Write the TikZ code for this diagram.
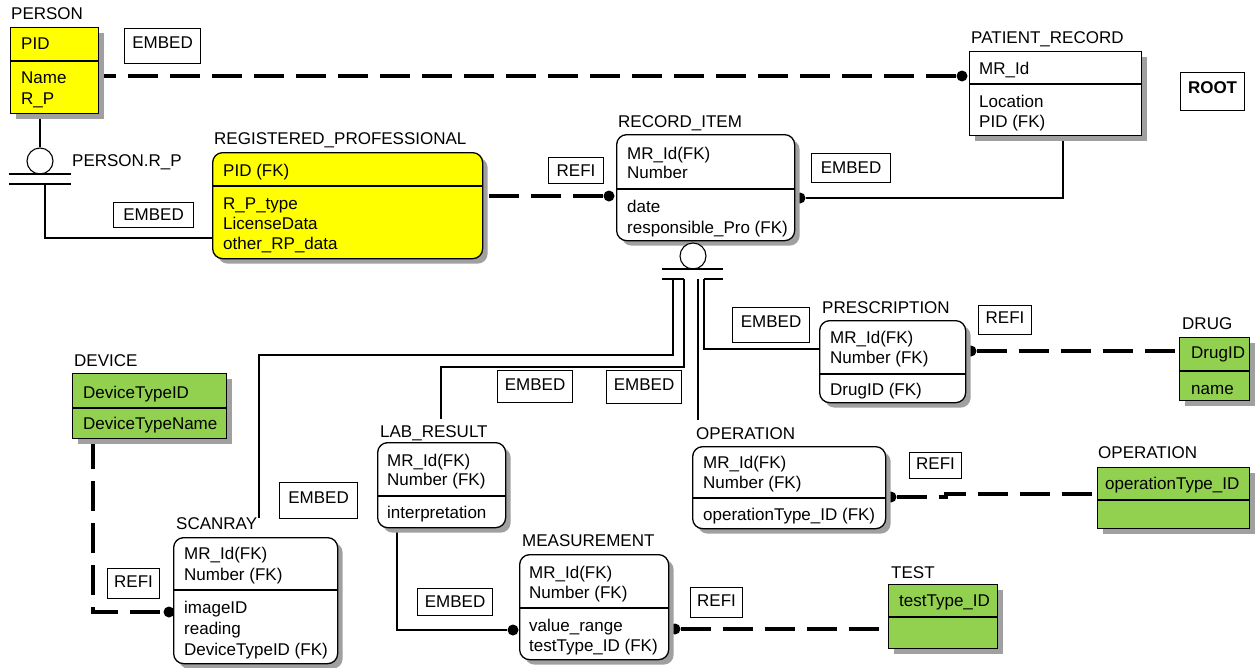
\documentclass[tikz,border=0pt]{standalone}
\usepackage{fontspec}
\setmainfont{Liberation Sans}
\usetikzlibrary{shadows}
\pgfdeclarelayer{bg}
\pgfsetlayers{bg,main}
\definecolor{ey}{RGB}{255,255,0}
\definecolor{eg}{RGB}{146,208,80}
\definecolor{sh}{RGB}{160,160,160}
\tikzset{
  every node/.style={font=\fontsize{17}{20}\selectfont, inner sep=0pt},
  ent/.style={draw, line width=1.3pt, anchor=north west,
    drop shadow={shadow xshift=5pt, shadow yshift=-5pt, fill=sh, opacity=1}},
  rent/.style={ent, rounded corners=10pt},
  div/.style={line width=1.3pt},
  txt/.style={anchor=base west},
  lbox/.style={draw, line width=1.1pt, anchor=north west, fill=white},
  dot/.style={circle, fill=black, minimum size=11pt},
  sub/.style={circle, draw, line width=1.1pt, minimum size=26pt, fill=white},
  refi/.style={line width=3.3pt, dash pattern=on 30pt off 12pt},
  thinl/.style={line width=1.1pt}
}
\newcommand\rows[5][20]{\foreach \t [count=\i from 0] in {#5}{\node[txt] (#2-\i) at (#3,{#4+\i*#1}) {\t};}}
\begin{document}
\begin{tikzpicture}[x=1pt,y=-1pt]
\begin{pgfonlayer}{bg}\fill[white] (0,0) rectangle (1257,667);\end{pgfonlayer}
\useasboundingbox (0,0) rectangle (1257,667);

% ---------- entities ----------
% PERSON
\node[ent, fill=ey, minimum width=88pt, minimum height=86pt] (person) at (10,27) {};
\draw[div] (person.west |- 0,61) -- (person.east |- 0,61);
\node[txt] (person-t) at (11,19) {PERSON};
\rows{personK}{21}{49}{PID}
\rows[21]{personA}{21}{83}{Name,R\_P}

% PATIENT_RECORD
\node[ent, fill=white, minimum width=172pt, minimum height=84pt] (prec) at (969,51) {};
\draw[div] (prec.west |- 0,84) -- (prec.east |- 0,84);
\node[txt] (prec-t) at (971,43) {PATIENT\_RECORD};
\rows{precK}{979}{74}{MR\_Id}
\rows{precA}{979}{107}{Location,PID (FK)}

% ROOT
\node[lbox, minimum width=64pt, minimum height=38pt, text depth=8pt, font=\fontsize{17}{20}\selectfont\bfseries] (root) at (1180,72) {ROOT};

% REGISTERED_PROFESSIONAL
\node[rent, fill=ey, minimum width=270pt, minimum height=106pt] (reg) at (212,152) {};
\draw[div] (reg.west |- 0,186) -- (reg.east |- 0,186);
\node[txt] (reg-t) at (214,144) {REGISTERED\_PROFESSIONAL};
\rows{regK}{223}{176}{PID (FK)}
\rows{regA}{223}{209}{R\_P\_type,LicenseData,other\_RP\_data}

% RECORD_ITEM
\node[rent, fill=white, minimum width=178pt, minimum height=106pt] (ri) at (616,134) {};
\draw[div] (ri.west |- 0,189) -- (ri.east |- 0,189);
\node[txt] (ri-t) at (618,127) {RECORD\_ITEM};
\rows[19]{riK}{627}{159}{MR\_Id(FK),Number}
\rows[21]{riA}{627}{212}{date,responsible\_Pro (FK)}

% PRESCRIPTION
\node[rent, fill=white, minimum width=146pt, minimum height=82pt] (presc) at (819,320) {};
\draw[div] (presc.west |- 0,374) -- (presc.east |- 0,374);
\node[txt] (presc-t) at (822,313) {PRESCRIPTION};
\rows{prescK}{830}{343}{MR\_Id(FK),Number (FK)}
\rows{prescA}{830}{395}{DrugID (FK)}

% DRUG
\node[ent, fill=eg, minimum width=70pt, minimum height=63pt] (drug) at (1179,337) {};
\draw[div] (drug.west |- 0,371) -- (drug.east |- 0,371);
\node[txt] (drug-t) at (1182,329) {DRUG};
\rows{drugK}{1191}{358}{DrugID}
\rows{drugA}{1191}{394}{name}

% DEVICE
\node[ent, fill=eg, minimum width=154pt, minimum height=65pt] (dev) at (72,373) {};
\draw[div] (dev.west |- 0,408) -- (dev.east |- 0,408);
\node[txt] (dev-t) at (74,366) {DEVICE};
\rows{devK}{83}{398}{DeviceTypeID}
\rows{devA}{83}{429}{DeviceTypeName}

% SCANRAY
\node[rent, fill=white, minimum width=164pt, minimum height=126pt] (scan) at (173,537) {};
\draw[div] (scan.west |- 0,590) -- (scan.east |- 0,590);
\node[txt] (scan-t) at (176,529) {SCANRAY};
\rows[21]{scanK}{184}{559}{MR\_Id(FK),Number (FK)}
\rows[21]{scanA}{184}{613}{imageID,reading,DeviceTypeID (FK)}

% LAB_RESULT
\node[rent, fill=white, minimum width=128pt, minimum height=85pt] (lab) at (377,442) {};
\draw[div] (lab.west |- 0,496) -- (lab.east |- 0,496);
\node[txt] (lab-t) at (380,437) {LAB\_RESULT};
\rows[19]{labK}{387}{466}{MR\_Id(FK),Number (FK)}
\rows{labA}{387}{518}{interpretation}

% MEASUREMENT
\node[rent, fill=white, minimum width=149pt, minimum height=105pt] (meas) at (519,554) {};
\draw[div] (meas.west |- 0,608) -- (meas.east |- 0,608);
\node[txt] (meas-t) at (522,546) {MEASUREMENT};
\rows{measK}{529}{578}{MR\_Id(FK),Number (FK)}
\rows{measA}{529}{631}{value\_range,testType\_ID (FK)}

% OPERATION (white)
\node[rent, fill=white, minimum width=193pt, minimum height=82pt] (op) at (692,446) {};
\draw[div] (op.west |- 0,498) -- (op.east |- 0,498);
\node[txt] (op-t) at (696,439) {OPERATION};
\rows{opK}{703}{468}{MR\_Id(FK),Number (FK)}
\rows{opA}{703}{520}{operationType\_ID (FK)}

% OPERATION (green)
\node[ent, fill=eg, minimum width=152pt, minimum height=61pt] (opt) at (1097,467) {};
\draw[div] (opt.west |- 0,500) -- (opt.east |- 0,500);
\node[txt] (opt-t) at (1098,458) {OPERATION};
\rows{optK}{1105}{489}{operationType\_ID}

% TEST
\node[ent, fill=eg, minimum width=109pt, minimum height=64pt] (test) at (888,584) {};
\draw[div] (test.west |- 0,617) -- (test.east |- 0,617);
\node[txt] (test-t) at (891,578) {TEST};
\rows{testK}{899}{606}{testType\_ID}

% ---------- relationship labels ----------
\node[lbox, minimum width=76pt, minimum height=35pt, text depth=7pt] (e1) at (124,28) {EMBED};
\node[lbox, minimum width=80pt, minimum height=25pt] (e2) at (113,202) {EMBED};
\node[lbox, minimum width=55pt, minimum height=26pt] (r1) at (548,157) {REFI};
\node[lbox, minimum width=79pt, minimum height=29pt] (e3) at (811,153) {EMBED};
\node[lbox, minimum width=77pt, minimum height=35pt, text depth=6pt] (e4) at (732,307) {EMBED};
\node[lbox, minimum width=53pt, minimum height=29pt, text depth=4pt] (r2) at (978,305) {REFI};
\node[lbox, minimum width=75pt, minimum height=32pt, text depth=4pt] (e5) at (497,370) {EMBED};
\node[lbox, minimum width=75pt, minimum height=33pt, text depth=4pt] (e6) at (606,370) {EMBED};
\node[lbox, minimum width=78pt, minimum height=36pt, text depth=6pt] (e7) at (279,482) {EMBED};
\node[lbox, minimum width=52pt, minimum height=30pt, text depth=4pt] (r3) at (107,568) {REFI};
\node[lbox, minimum width=75pt, minimum height=27pt] (e8) at (417,588) {EMBED};
\node[lbox, minimum width=52pt, minimum height=30pt, text depth=4pt] (r4) at (690,587) {REFI};
\node[lbox, minimum width=52pt, minimum height=26pt, text depth=3pt] (r5) at (909,452) {REFI};

% ---------- subtype symbols ----------
\node[sub] (psub) at (40,161) {};
\draw[thinl] (9,174) -- (71,174) (9,184) -- (71,184);
\node[txt] (psub-t) at (72,166) {PERSON.R\_P};
\node[sub] (risub) at (693,256) {};
\draw[thinl] (662,269) -- (723,269) (662,279) -- (684,279) (704,279) -- (723,279);

% ---------- connectors ----------
\begin{pgfonlayer}{bg}
\node[dot] (d1) at (962,76) {};
\draw[refi] (d1) -- (d1 -| person.east);
\node[dot] (d2) at (609,196) {};
\draw[refi] (d2) -- (d2 -| reg.east);
\node[dot] (d3) at (800,198) {};
\draw[thinl] (d3) -| (prec.south -| 1063,0);
\node[dot] (d4) at (169,612) {};
\draw[refi] (dev.south -| 93,0) |- (d4);
\node[dot] (d5) at (513,630) {};
\draw[thinl] (lab.south -| 397,0) |- (d5);
\node[dot] (d6) at (675,629) {};
\draw[refi] (d6) -- (d6 -| test.west);
\node[dot] (d7) at (971,351) {};
\draw[refi] (d7) -- (d7 -| drug.west);
\node[dot] (d8) at (891,497) {};
\coordinate (j8) at (946,494);
\draw[refi] (d8) -| (j8) -- (j8 -| opt.west);
% PERSON.R_P
\draw[thinl] (psub.north) -- (psub.north |- person.south);
\draw[thinl] (45,184) |- (reg.west |- 0,238);
% RECORD_ITEM subtypes
\coordinate (scan-in) at (259,518);
\coordinate (lab-in) at (441,419);
\coordinate (op-in) at (698,420);
\draw[thinl] (673,279) |- (259,355) -- (scan-in);
\draw[thinl] (684,279) |- (441,367) -- (lab-in);
\draw[thinl] (698,279) -- (op-in);
\draw[thinl] (704,279) |- (presc.west |- 0,349);
\end{pgfonlayer}
\end{tikzpicture}
\end{document}
